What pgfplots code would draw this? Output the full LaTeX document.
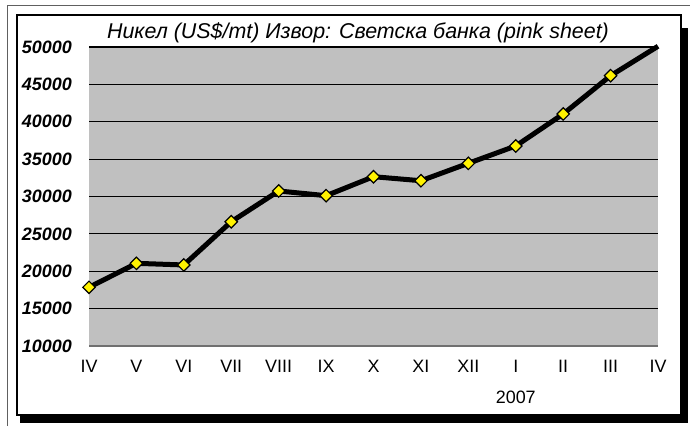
\documentclass[border=0pt]{standalone}
\usepackage{fontspec}
\setmainfont{Liberation Sans}
\usepackage{pgfplots}
\pgfplotsset{compat=1.18}
\definecolor{plotgray}{HTML}{C0C0C0}
\definecolor{axgray}{HTML}{707070}
\definecolor{frgray}{HTML}{606060}
\begin{document}
\begin{tikzpicture}[x=1bp,y=1bp]
\path[use as bounding box, fill=white] (0,0) rectangle (690,426);
\draw[frgray, line width=1bp] (7,0) -- (7,420) -- (690,420);
\fill[black] (682,3) rectangle (688,398);
\fill[black] (20,3) rectangle (688,10);
\draw[black, line width=1.5bp, fill=white] (17,11) rectangle (681,411);
\node[font=\fontsize{21.5}{23}\selectfont\itshape] at (358,393) {Никел (US\$/mt) Извор: Светска банка (pink sheet)};
\begin{axis}[
  at={(89bp,80bp)}, anchor=south west, scale only axis,
  width=569bp, height=299bp,
  xmin=0, xmax=12, ymin=10000, ymax=50000,
  clip=false,
  axis background/.style={fill=plotgray},
  axis line style={draw=none},
  major tick length=0pt,
  ytick={10000,15000,...,50000},
  scaled y ticks=false,
  xtick={0,...,12},
  xticklabels={IV,V,VI,VII,VIII,IX,X,XI,XII,{I\\2007},II,III,IV},
  ymajorgrids,
  major grid style={black, line width=1.2bp},
  /pgf/number format/assume math mode=true,
  /pgf/number format/1000 sep={},
  yticklabel style={anchor=east, inner sep=0pt, xshift=-17bp, font=\fontsize{18}{20}\selectfont\bfseries\itshape},
  xticklabel style={anchor=north, inner sep=0pt, yshift=-14bp, align=center, font=\fontsize{18}{31}\selectfont},
]
\draw[axgray, line width=2bp] (axis cs:0,10000) -- (axis cs:12,10000);
\addplot[black, line width=5bp, mark=square*, mark indices={1,2,3,4,5,6,7,8,9,10,11,12},
  mark size=4.4bp, mark options={rotate=45, fill=yellow, draw=black, line width=1.2bp}]
  coordinates {
  (0,17850) (1,21060) (2,20840) (3,26630) (4,30740) (5,30110) (6,32650)
  (7,32110) (8,34440) (9,36760) (10,41040) (11,46160) (12,50100)
  };
\end{axis}
\end{tikzpicture}
\end{document}
